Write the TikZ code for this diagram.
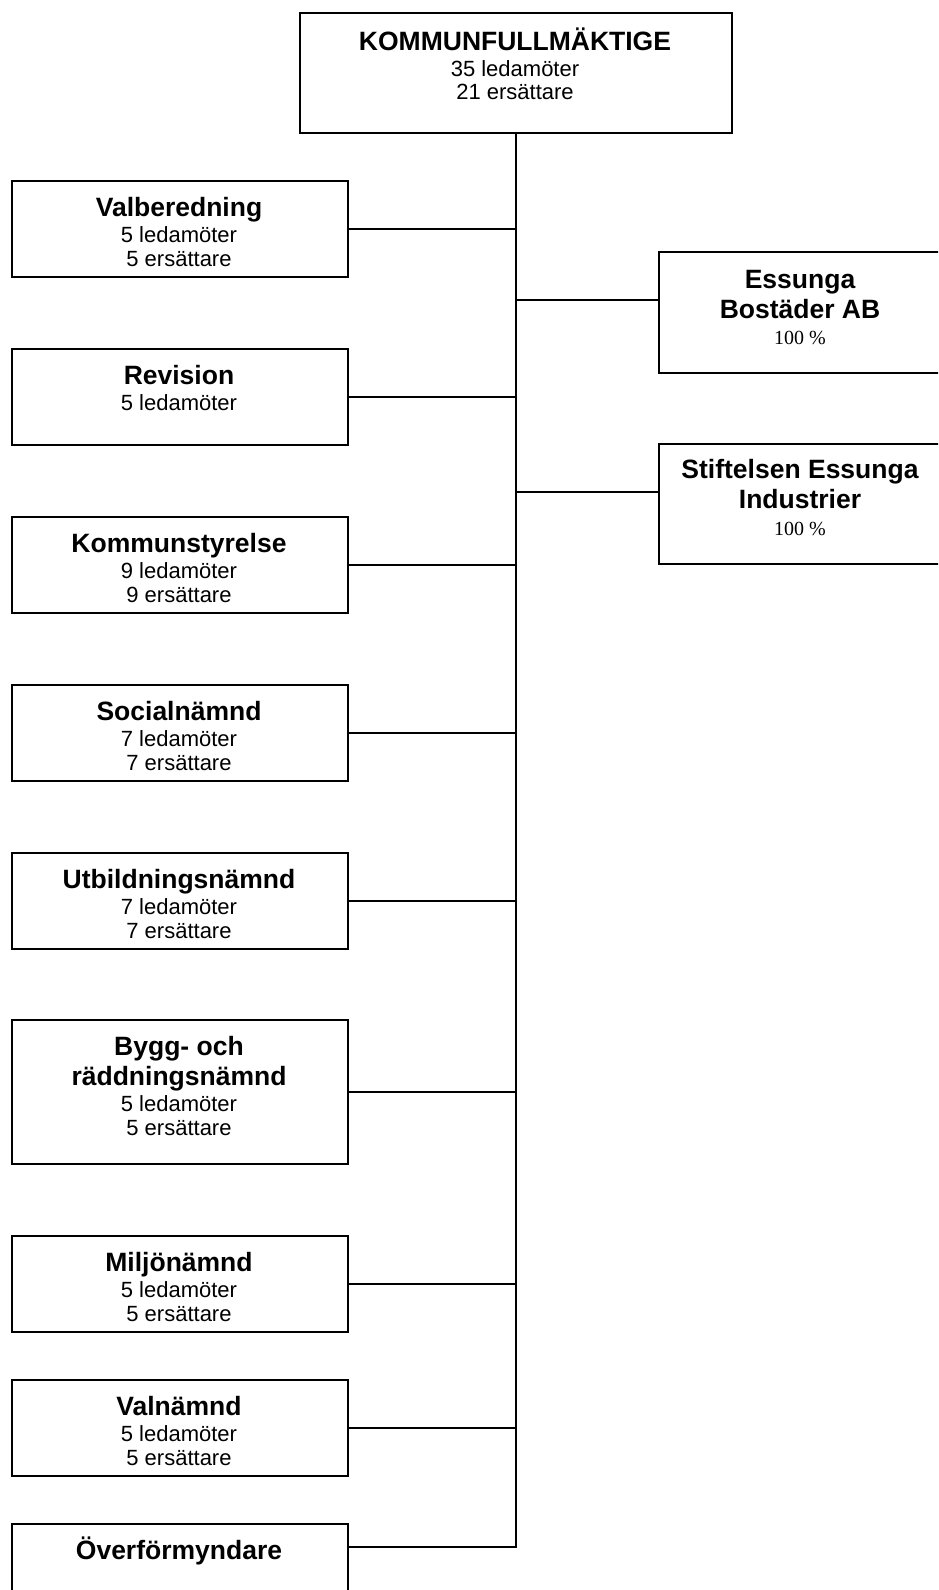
\documentclass[tikz,border=0pt]{standalone}
\usepackage{fontspec}
\setmainfont{Liberation Sans}
\newfontfamily\serifrm{Liberation Serif}
\usetikzlibrary{calc}
\begin{document}
\begin{tikzpicture}[x=1pt,y=-1pt,
  box/.style={draw, line width=1.6pt, rectangle, inner sep=0pt, anchor=north west},
  lbox/.style={box, minimum width=336pt, minimum height=96pt},
  rbox/.style={box, minimum width=290pt, minimum height=121pt},
  conn/.style={line width=1.6pt},
  ttl/.style={anchor=base, inner sep=0pt, font=\fontsize{26.5}{30}\selectfont\bfseries},
  sub/.style={anchor=base, inner sep=0pt, font=\fontsize{22}{26}\selectfont},
  pct/.style={anchor=base, inner sep=0pt, font=\serifrm\fontsize{20}{24}\selectfont}]
\useasboundingbox (0,0) rectangle (938,1590);
\clip (0,0) rectangle (938,1590);

% top
\node[box, minimum width=432pt, minimum height=120pt] (kf) at (299,12) {};
\node[ttl] (kft) at (515,50) {KOMMUNFULLMÄKTIGE};
\node[sub] (kf1) at (515,76) {35 ledamöter};
\node[sub] (kf2) at (515,99) {21 ersättare};

% left boxes
\node[lbox] (vb) at (11,180) {};
\node[ttl] (vbt) at (179,216) {Valberedning};
\node[sub] (vb1) at (179,242) {5 ledamöter};
\node[sub] (vb2) at (179,266) {5 ersättare};

\node[lbox] (rv) at (11,348) {};
\node[ttl] (rvt) at (179,384) {Revision};
\node[sub] (rv1) at (179,410) {5 ledamöter};

\node[lbox] (ks) at (11,516) {};
\node[ttl] (kst) at (179,552) {Kommunstyrelse};
\node[sub] (ks1) at (179,578) {9 ledamöter};
\node[sub] (ks2) at (179,602) {9 ersättare};

\node[lbox] (sn) at (11,684) {};
\node[ttl] (snt) at (179,720) {Socialnämnd};
\node[sub] (sn1) at (179,746) {7 ledamöter};
\node[sub] (sn2) at (179,770) {7 ersättare};

\node[lbox] (ub) at (11,852) {};
\node[ttl] (ubt) at (179,888) {Utbildningsnämnd};
\node[sub] (ub1) at (179,914) {7 ledamöter};
\node[sub] (ub2) at (179,938) {7 ersättare};

\node[lbox, minimum height=144pt] (br) at (11,1019) {};
\node[ttl] (brt1) at (179,1055) {Bygg- och};
\node[ttl] (brt2) at (179,1085.5) {räddningsnämnd};
\node[sub] (br1) at (179,1111) {5 ledamöter};
\node[sub] (br2) at (179,1135.5) {5 ersättare};

\node[lbox] (mn) at (11,1235) {};
\node[ttl] (mnt) at (179,1271) {Miljönämnd};
\node[sub] (mn1) at (179,1297) {5 ledamöter};
\node[sub] (mn2) at (179,1321) {5 ersättare};

\node[lbox] (vn) at (11,1379) {};
\node[ttl] (vnt) at (179,1415) {Valnämnd};
\node[sub] (vn1) at (179,1441) {5 ledamöter};
\node[sub] (vn2) at (179,1465) {5 ersättare};

\node[lbox] (of) at (11,1523) {};
\node[ttl] (oft) at (179,1559) {Överförmyndare};

% right boxes
\node[rbox] (eb) at (658,251) {};
\node[ttl] (ebt1) at (800,288) {Essunga};
\node[ttl] (ebt2) at (800,318.5) {Bostäder AB};
\node[pct] (ebp) at (800,344) {100 \%};

\node[rbox, minimum height=120pt] (si) at (658,443) {};
\node[ttl] (sit1) at (800,478.5) {Stiftelsen Essunga};
\node[ttl] (sit2) at (800,508.5) {Industrier};
\node[pct] (sip) at (800,535) {100 \%};

% connectors
\coordinate (ofc) at ($(of.north east)+(0,24)$);
\draw[conn] (ofc) -| (kf.south);
\foreach \n in {vb,rv,ks,sn,ub,br,mn,vn}{
  \draw[conn] (\n.east) -- (\n.east -| kf.south);
}
\coordinate (ebc) at ($(eb.north west)+(0,49)$);
\coordinate (sic) at ($(si.north west)+(0,49)$);
\draw[conn] (ebc) -- (ebc -| kf.south);
\draw[conn] (sic) -- (sic -| kf.south);
\end{tikzpicture}
\end{document}
